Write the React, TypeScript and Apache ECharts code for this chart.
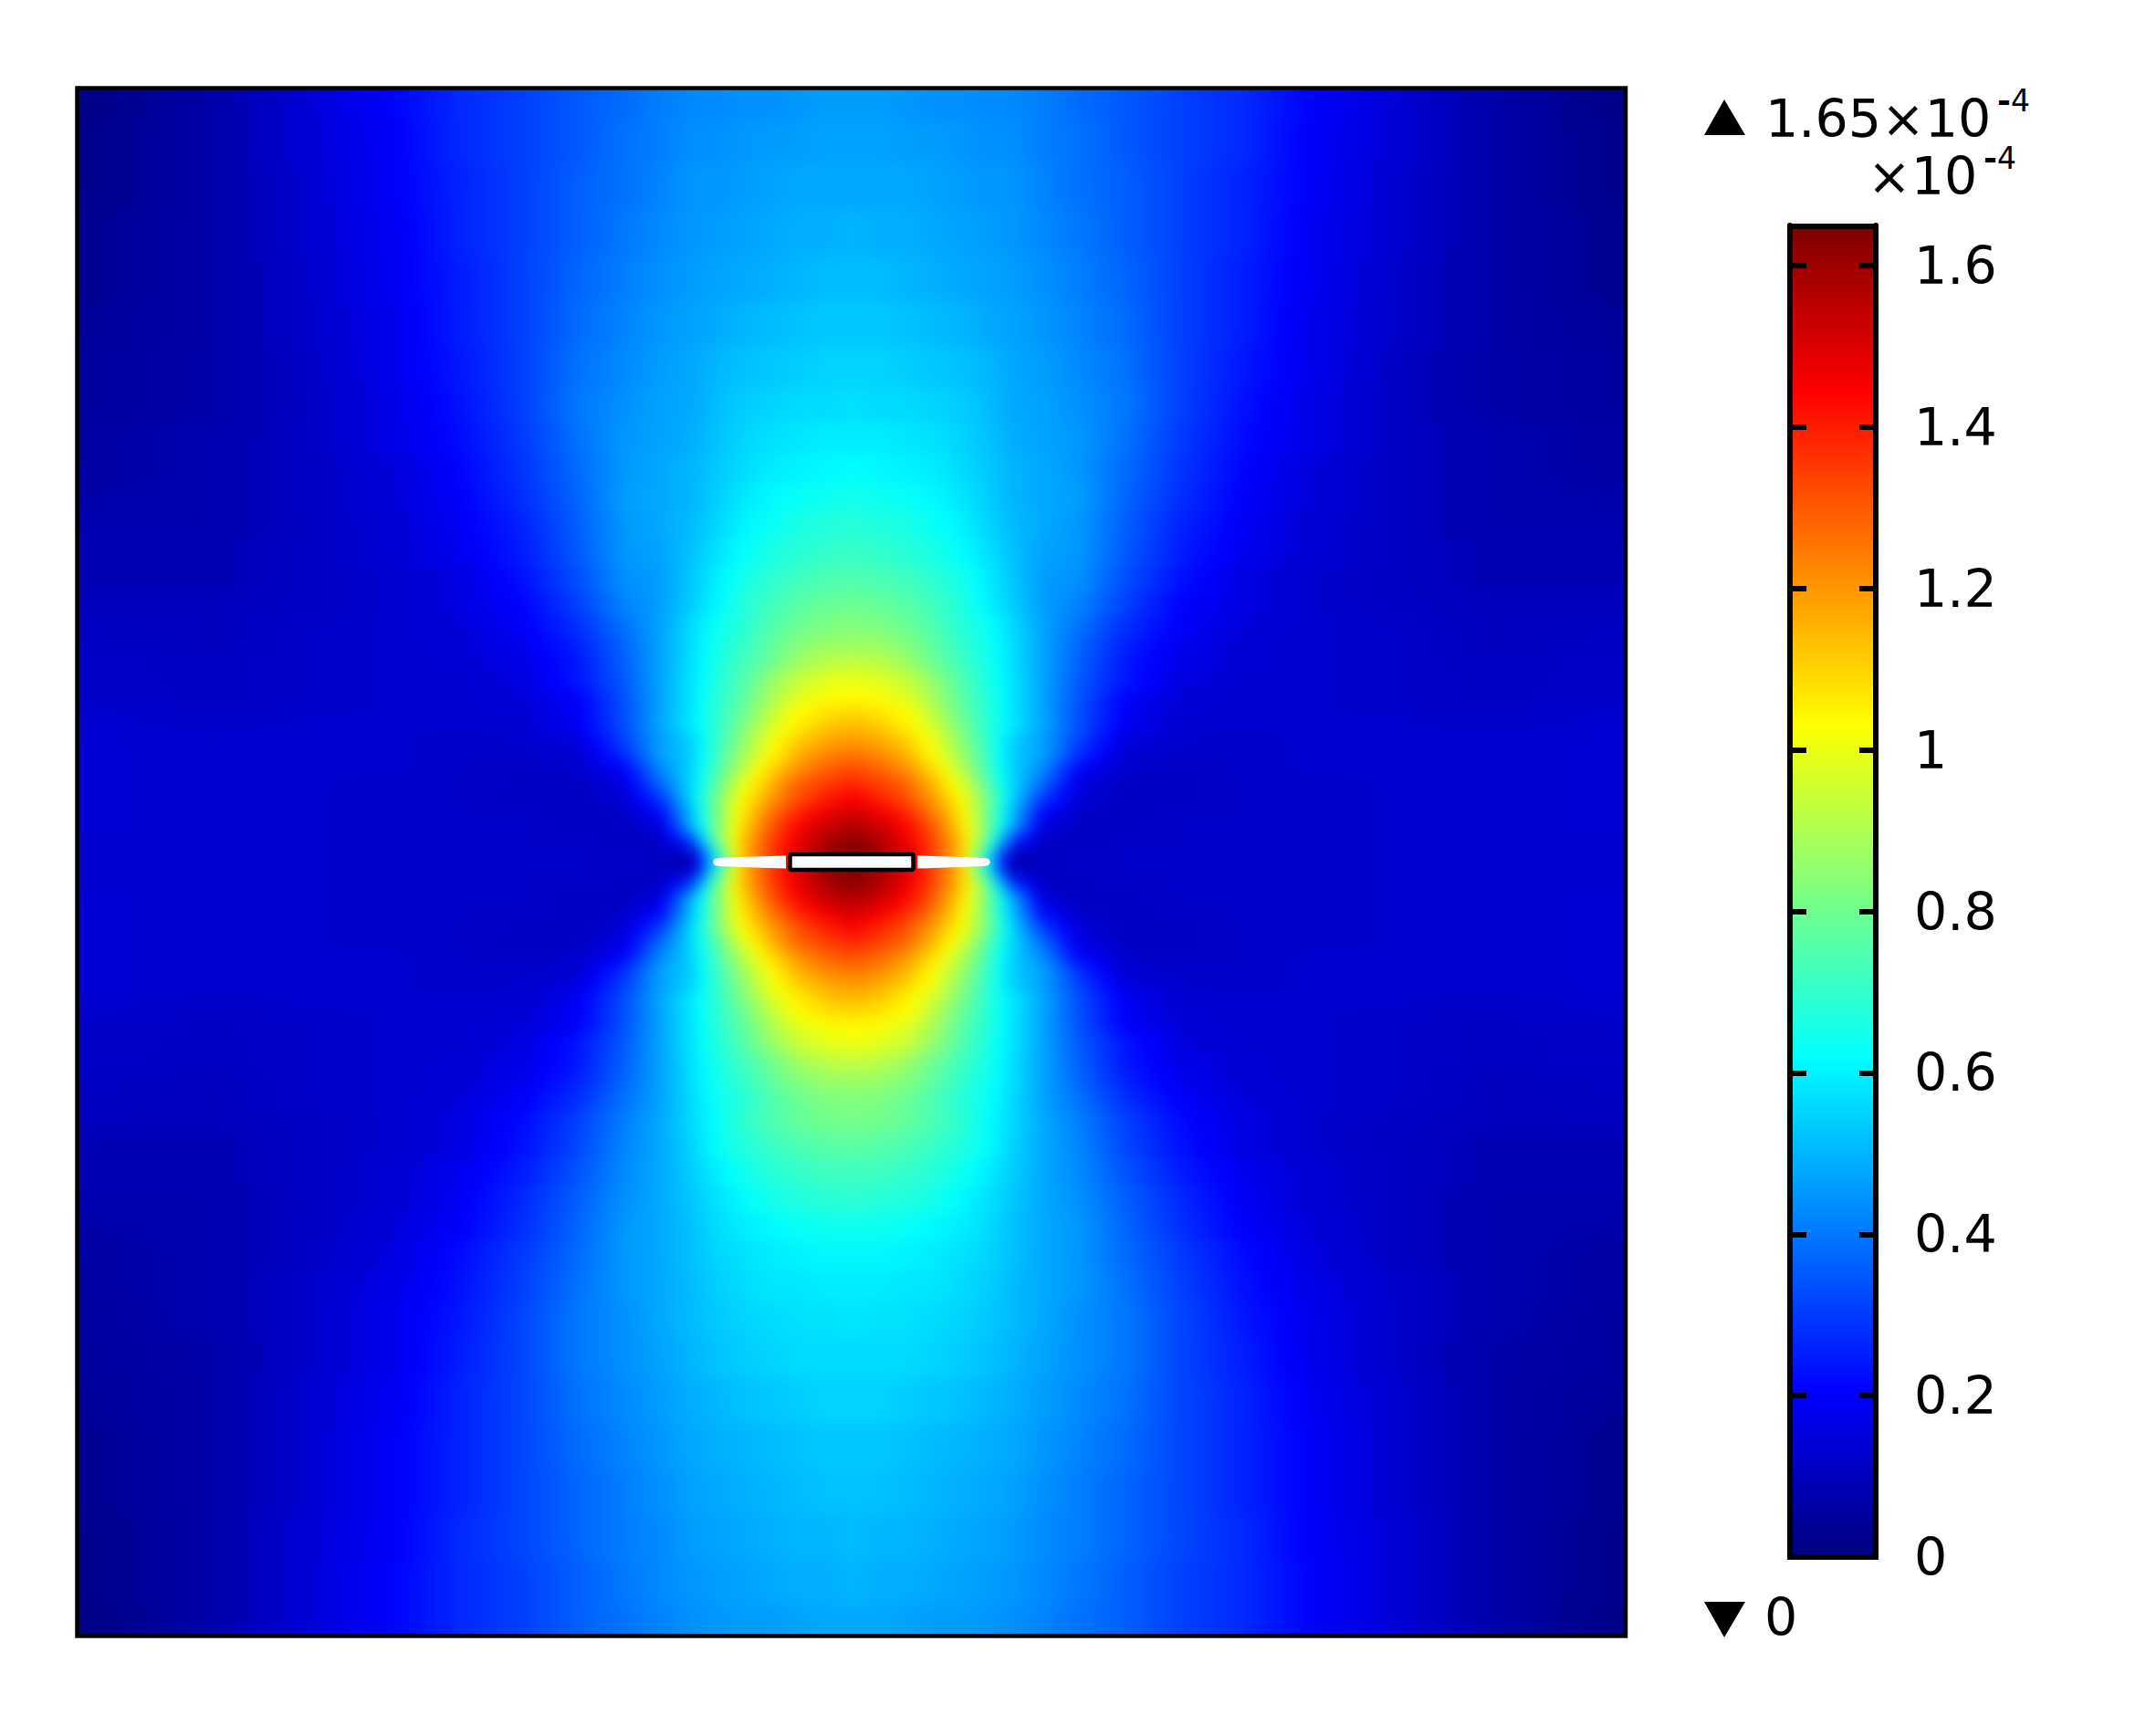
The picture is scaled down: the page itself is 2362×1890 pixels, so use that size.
import React, { useEffect, useRef } from "react";
import * as echarts from "echarts";

// Horizontal distance from the plate centre of each value read in a row (mirrored left/right)
const colOffsets = [0, 30, 60, 90, 120, 150, 175, 210, 250, 300, 360, 430, 500, 600, 700, 848];

// Vertical distance from the centre of each row, and field values in units of 1e-6
const nearOffsets = [8, 24, 40, 56, 72, 88, 104, 120, 136, 152, 168, 184, 200, 220, 240, 260];
const nearRows = [
  [165, 160, 150, 133, 113, 60, 9, 11, 12, 12, 12, 12, 12, 13, 13, 13],
  [163, 157, 147, 133, 113, 77, 30, 11, 11, 12, 12, 12, 12, 13, 13, 13],
  [157, 153, 144, 129, 109, 80, 50, 15, 11, 11, 12, 12, 12, 13, 13, 14],
  [151, 146, 138, 124, 106, 79, 52, 21, 12, 11, 12, 12, 12, 13, 13, 14],
  [145, 139, 131, 118, 103, 80, 56, 30, 14, 11, 11, 12, 12, 13, 13, 14],
  [138, 134, 128, 114, 98, 74, 56, 38, 16, 11, 11, 12, 12, 13, 13, 14],
  [132, 128, 120, 108, 91, 72, 55, 43, 20, 13, 12, 12, 13, 13, 13, 14],
  [125, 122, 115, 102, 87, 70, 54, 47, 28, 13, 12, 12, 13, 13, 13, 14],
  [119, 116, 110, 100, 84, 69, 55, 46, 31, 16, 13, 12, 13, 13, 13, 14],
  [114, 111, 105, 95, 81, 68, 59, 48, 33, 19, 13, 13, 13, 13, 12, 13],
  [108, 106, 103, 91, 78, 68, 58, 47, 33, 19, 14, 13, 13, 12, 12, 13],
  [103, 102, 97, 88, 76, 67, 58, 47, 34, 21, 15, 13, 13, 12, 11, 12],
  [100, 98, 94, 85, 75, 66, 58, 47, 35, 24, 16, 13, 13, 12, 11, 12],
  [93, 92, 87, 79, 72, 65, 57, 47, 36, 24, 17, 14, 13, 12, 11, 12],
  [87, 86, 83, 77, 70, 64, 57, 47, 37, 26, 18, 14, 13, 12, 10, 11],
  [83, 82, 79, 74, 68, 63, 56, 47, 39, 28, 20, 15, 13, 12, 10, 11],
];

const farOffsets = [285, 310, 340, 370, 400, 430, 465, 500, 540, 590, 640, 690, 740, 790, 835];
const topFarRows = [
  [79, 78, 76, 72, 67, 60, 54, 46, 42, 31, 21, 16, 13, 11, 10, 10],
  [75, 74, 72, 69, 65, 59, 53, 46, 44, 33, 23, 16, 13, 11, 9, 9],
  [71, 70, 68, 66, 62, 57, 52, 47, 45, 35, 25, 18, 14, 11, 9, 9],
  [68, 67, 66, 63, 60, 55, 51, 48, 45, 36, 26, 19, 14, 11, 8, 8],
  [65, 64, 63, 61, 58, 54, 50, 48, 46, 37, 28, 20, 15, 11, 8, 7],
  [62, 61, 60, 59, 56, 53, 50, 48, 45, 38, 29, 21, 15, 11, 8, 6],
  [59, 59, 58, 57, 55, 52, 49, 47, 45, 39, 30, 22, 17, 11, 8, 6],
  [57, 56, 56, 55, 54, 51, 48, 47, 44, 40, 31, 23, 17, 11, 7, 5],
  [55, 55, 54, 53, 52, 50, 48, 46, 43, 39, 31, 24, 18, 11, 7, 5],
  [53, 53, 52, 51, 50, 48, 47, 45, 42, 38, 31, 25, 18, 12, 7, 4],
  [51, 51, 50, 49, 48, 47, 46, 44, 41, 37, 31, 25, 19, 12, 7, 3],
  [50, 49, 49, 48, 47, 46, 45, 43, 40, 36, 31, 26, 19, 13, 7, 3],
  [48, 48, 48, 47, 46, 45, 45, 42, 39, 36, 31, 26, 20, 13, 7, 2],
  [47, 47, 46, 46, 45, 44, 44, 41, 39, 35, 31, 27, 20, 14, 7, 2],
  [46, 46, 45, 44, 44, 43, 43, 41, 38, 35, 31, 27, 21, 14, 7, 1],
];
const bottomFarRows = [
  [81, 80, 78, 74, 69, 62, 56, 48, 41, 31, 22, 16, 13, 11, 10, 10],
  [77, 76, 74, 71, 67, 62, 55, 48, 42, 32, 23, 16, 13, 11, 9, 9],
  [72, 72, 70, 68, 64, 59, 54, 48, 43, 34, 25, 18, 14, 11, 9, 9],
  [69, 68, 67, 65, 61, 57, 53, 48, 44, 36, 27, 19, 14, 11, 8, 8],
  [64, 64, 63, 61, 59, 56, 52, 48, 45, 37, 28, 20, 15, 11, 8, 7],
  [61, 61, 60, 59, 57, 55, 52, 48, 45, 38, 30, 22, 16, 11, 8, 6],
  [59, 59, 58, 58, 56, 54, 51, 48, 45, 39, 31, 23, 17, 12, 8, 6],
  [58, 57, 57, 56, 55, 53, 51, 48, 44, 40, 32, 24, 18, 12, 8, 5],
  [56, 56, 56, 55, 54, 52, 50, 47, 44, 40, 32, 25, 18, 12, 7, 5],
  [55, 55, 54, 53, 52, 50, 49, 46, 43, 39, 32, 26, 19, 13, 7, 4],
  [53, 53, 52, 51, 50, 49, 48, 45, 42, 38, 32, 26, 20, 13, 7, 3],
  [52, 52, 51, 50, 49, 48, 47, 44, 41, 37, 32, 26, 20, 13, 7, 3],
  [51, 50, 50, 49, 48, 47, 46, 43, 41, 37, 32, 27, 20, 14, 7, 2],
  [50, 49, 49, 48, 47, 46, 45, 43, 40, 36, 31, 27, 21, 14, 7, 2],
  [48, 48, 47, 46, 46, 45, 44, 42, 39, 36, 31, 27, 21, 14, 7, 1],
];

// The slit and the inclusion at the centre (distance from the centre)
const slitOffsets = [72, 90, 120, 145, 150, 152];
const slitHalfWidths = [7, 6.5, 5.5, 4.5, 3.5, 0];
const inclusionHalfLength = 67.5;
const inclusionHalfHeight = 8.5;

// Rainbow scale, values in units of 1e-6
const scaleValues = [0, 20.6, 61.9, 103.1, 144.4, 165];
const scaleColors = [[0, 0, 127], [0, 0, 255], [0, 255, 255], [255, 255, 0], [255, 0, 0], [127, 0, 0]];
const scaleMax = 165;

const colourTicks = [0, 0.2, 0.4, 0.6, 0.8, 1, 1.2, 1.4, 1.6];
const PLATE_HALF_X = 849;
const PLATE_HALF_Y = 848.5;
const BLEED = 60; // the field is drawn past the frame so that softening leaves no pale rim

function colourOf(v: number) {
  const t = Math.max(0, Math.min(scaleMax, v));
  let i = 0;
  while (i < scaleValues.length - 2 && t > scaleValues[i + 1]) i++;
  const f = (t - scaleValues[i]) / (scaleValues[i + 1] - scaleValues[i]);
  const a = scaleColors[i];
  const b = scaleColors[i + 1];
  return `rgb(${Math.round(a[0] + (b[0] - a[0]) * f)},${Math.round(a[1] + (b[1] - a[1]) * f)},${Math.round(a[2] + (b[2] - a[2]) * f)})`;
}

// Colour stops of one row: the colour scale's own knots are kept between two read values
function rowStops(values: number[]) {
  const halfX = PLATE_HALF_X + BLEED;
  const xs = [...colOffsets.slice(1).reverse().map((d) => -d), ...colOffsets];
  const vs = [...values.slice(1).reverse(), ...values];
  const stops: { offset: number; color: string }[] = [];
  const off = (x: number) => (x + halfX) / (2 * halfX);
  stops.push({ offset: 0, color: colourOf(vs[0]) });
  for (let i = 0; i < xs.length - 1; i++) {
    stops.push({ offset: off(xs[i]), color: colourOf(vs[i]) });
    const lo = Math.min(vs[i], vs[i + 1]);
    const hi = Math.max(vs[i], vs[i + 1]);
    const inside = scaleValues.filter((k) => k > lo && k < hi);
    if (vs[i] > vs[i + 1]) inside.reverse();
    inside.forEach((k) => {
      const f = (k - vs[i]) / (vs[i + 1] - vs[i]);
      stops.push({ offset: off(xs[i] + (xs[i + 1] - xs[i]) * f), color: colourOf(k) });
    });
  }
  stops.push({ offset: off(xs[xs.length - 1]), color: colourOf(vs[vs.length - 1]) });
  stops.push({ offset: 1, color: colourOf(vs[vs.length - 1]) });
  return stops;
}

function buildRows() {
  const up = [...nearOffsets, ...farOffsets];
  const upVals = [...nearRows, ...topFarRows];
  const downVals = [...nearRows, ...bottomFarRows];
  const bound = (i: number) => (i < 0 ? 0 : i >= up.length - 1 ? PLATE_HALF_Y + BLEED : (up[i] + up[i + 1]) / 2);
  const rows: { y0: number; y1: number; values: number[] }[] = [];
  up.forEach((_, i) => {
    rows.push({ y0: bound(i - 1), y1: bound(i), values: upVals[i] });
    rows.push({ y0: -bound(i), y1: -bound(i - 1), values: downVals[i] });
  });
  return rows;
}

const FONT = '"DejaVu Sans"';
const supRich = {
  d: { font: `bold 36px ${FONT}`, fill: "#000", color: "#000" },
  n: { font: `33px ${FONT}`, fill: "#000", color: "#000" },
};

export default function App() {
  const fieldRef = useRef<HTMLDivElement>(null);
  const ref = useRef<HTMLDivElement>(null);
  useEffect(() => {
    if (!ref.current || !fieldRef.current) return;

    // Field layer: softened by the page, kept inside the plate by its wrapper
    const field = echarts.init(fieldRef.current, undefined, { renderer: "svg" });
    const rows = buildRows();
    field.setOption({
      animation: false,
      grid: { left: 0, top: 0, right: 0, bottom: 0 },
      xAxis: { type: "value", min: -(PLATE_HALF_X + BLEED), max: PLATE_HALF_X + BLEED, show: false },
      yAxis: { type: "value", min: -(PLATE_HALF_Y + BLEED), max: PLATE_HALF_Y + BLEED, show: false },
      series: [
        {
          type: "custom",
          silent: true,
          clip: true,
          data: rows.map((r) => [0, r.y0, r.y1]),
          renderItem: (params: any, api: any) => {
            const r = rows[params.dataIndex];
            const left = api.coord([-(PLATE_HALF_X + BLEED), 0])[0];
            const right = api.coord([PLATE_HALF_X + BLEED, 0])[0];
            const top = api.coord([0, r.y1])[1];
            const bottom = api.coord([0, r.y0])[1];
            return {
              type: "rect",
              shape: { x: left, y: top, width: right - left, height: bottom - top + 0.8 },
              style: { fill: { type: "linear", x: 0, y: 0, x2: 1, y2: 0, colorStops: rowStops(r.values) } },
            };
          },
        },
      ],
    });

    // Top layer: slit, inclusion, frame, colour scale and texts
    const chart = echarts.init(ref.current, undefined, { renderer: "svg" });
    const barStops = scaleValues.map((v) => ({ offset: 1 - v / scaleMax, color: colourOf(v) })).reverse();
    const slitUpper = slitOffsets.map((d, i) => [d, slitHalfWidths[i]]);
    const axisCommon = {
      gridIndex: 1,
      type: "value",
      min: 0,
      max: 1.65,
      z: 10,
      splitLine: { show: false },
      axisLine: { show: true, lineStyle: { color: "#000", width: 6 } },
      axisTick: { show: true, inside: true, length: 18, lineStyle: { color: "#000", width: 6 }, customValues: colourTicks },
    };

    chart.setOption({
      animation: false,
      grid: [
        { left: 84, top: 96, width: 1698, height: 1697 },
        { left: 1961, top: 247, width: 94, height: 1459 },
      ],
      xAxis: [
        { gridIndex: 0, type: "value", min: -PLATE_HALF_X, max: PLATE_HALF_X, show: false },
        { gridIndex: 1, type: "category", data: ["scale"], show: false },
      ],
      yAxis: [
        { gridIndex: 0, type: "value", min: -PLATE_HALF_Y, max: PLATE_HALF_Y, show: false },
        { ...axisCommon, position: "left", axisLabel: { show: false } },
        {
          ...axisCommon,
          position: "right",
          axisLabel: {
            show: true,
            customValues: colourTicks,
            margin: 42,
            padding: [5, 0, 0, 0],
            color: "#000",
            fontFamily: FONT,
            fontSize: 57,
            formatter: (v: number) => String(Math.round(v * 10) / 10),
          },
        },
      ],
      series: [
        {
          type: "custom",
          name: "slit",
          xAxisIndex: 0,
          yAxisIndex: 0,
          silent: true,
          z: 3,
          data: [1, -1],
          renderItem: (params: any, api: any) => {
            const side = params.dataIndex === 0 ? 1 : -1;
            const upper = slitUpper.map(([d, h]) => api.coord([side * d, h]));
            const lower = slitUpper.map(([d, h]) => api.coord([side * d, -h])).reverse();
            return { type: "polygon", shape: { points: [...upper, ...lower] }, style: { fill: "#fff" } };
          },
        },
        {
          type: "custom",
          name: "inclusion",
          xAxisIndex: 0,
          yAxisIndex: 0,
          silent: true,
          z: 4,
          data: [0],
          renderItem: (_p: any, api: any) => {
            const a = api.coord([-inclusionHalfLength, inclusionHalfHeight]);
            const b = api.coord([inclusionHalfLength, -inclusionHalfHeight]);
            return {
              type: "rect",
              shape: { x: a[0], y: a[1], width: b[0] - a[0], height: b[1] - a[1], r: 1.5 },
              style: { fill: "#fff", stroke: "#000", lineWidth: 4.5 },
            };
          },
        },
        {
          type: "bar",
          xAxisIndex: 1,
          yAxisIndex: 2,
          silent: true,
          barWidth: "100%",
          data: [1.65],
          itemStyle: { color: new echarts.graphic.LinearGradient(0, 0, 0, 1, barStops) },
        },
      ],
      graphic: [
        {
          type: "rect",
          z: 20,
          silent: true,
          shape: { x: 84.5, y: 96.5, width: 1696.5, height: 1696 },
          style: { fill: "none", stroke: "#000", lineWidth: 4.5 },
        },
        {
          type: "rect",
          z: 20,
          silent: true,
          shape: { x: 1961, y: 248, width: 94, height: 1458 },
          style: { fill: "none", stroke: "#000", lineWidth: 6 },
        },
        { type: "polygon", z: 20, silent: true, shape: { points: [[1889, 109], [1912, 148], [1867, 148]] }, style: { fill: "#000" } },
        { type: "polygon", z: 20, silent: true, shape: { points: [[1867, 1755], [1912, 1755], [1889, 1794]] }, style: { fill: "#000" } },
        { type: "text", z: 20, silent: true, style: { text: "1.65×10", x: 1934, y: 130, textVerticalAlign: "middle", font: `57px ${FONT}`, fill: "#000" } },
        { type: "text", z: 20, silent: true, style: { text: "{d|-}{n|4}", rich: supRich, x: 2188, y: 110, textVerticalAlign: "middle", font: `33px ${FONT}`, fill: "#000" } },
        { type: "text", z: 20, silent: true, style: { text: "×10", x: 2046, y: 193, textVerticalAlign: "middle", font: `57px ${FONT}`, fill: "#000" } },
        { type: "text", z: 20, silent: true, style: { text: "{d|-}{n|4}", rich: supRich, x: 2173, y: 173, textVerticalAlign: "middle", font: `33px ${FONT}`, fill: "#000" } },
        { type: "text", z: 20, silent: true, style: { text: "0", x: 1933, y: 1772, textVerticalAlign: "middle", font: `57px ${FONT}`, fill: "#000" } },
      ],
    });
    return () => {
      field.dispose();
      chart.dispose();
    };
  }, []);
  return (
    <div style={{ position: "absolute", left: 0, top: 0, width: 2362, height: 1890, background: "#fff" }}>
      <div style={{ position: "absolute", left: 84, top: 96, width: 1698, height: 1697, overflow: "hidden" }}>
        <div
          ref={fieldRef}
          style={{
            position: "absolute",
            left: -BLEED,
            top: -BLEED,
            width: 1698 + 2 * BLEED,
            height: 1697 + 2 * BLEED,
            filter: "blur(8px)",
          }}
        />
      </div>
      <div ref={ref} style={{ position: "absolute", left: 0, top: 0, width: 2362, height: 1890 }} />
    </div>
  );
}
